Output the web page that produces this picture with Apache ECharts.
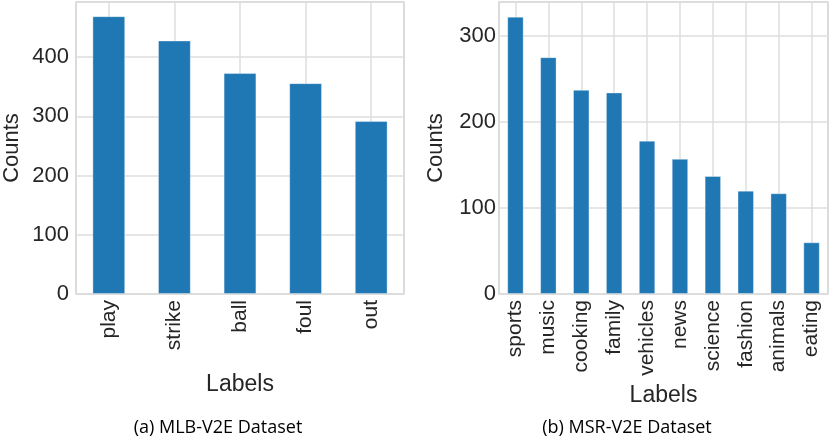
<!DOCTYPE html>
<html>
<head>
<meta charset="utf-8">
<script src="https://cdn.jsdelivr.net/npm/echarts@6/dist/echarts.min.js"></script>
<style>html,body{margin:0;padding:0;background:#fff;}#c{width:830px;height:442px;}</style>
</head>
<body>
<div id="c"></div>
<script>
var mlbCategories = ['play', 'strike', 'ball', 'foul', 'out'];
var mlbCounts = [469, 428, 373, 356, 292];
var msrCategories = ['sports', 'music', 'cooking', 'family', 'vehicles', 'news', 'science', 'fashion', 'animals', 'eating'];
var msrCounts = [322, 275, 237, 234, 178, 157, 137, 120, 117, 60];
var mlbYTicks = [0, 100, 200, 300, 400];
var msrYTicks = [0, 100, 200, 300];
var captions = ['(a) MLB-V2E Dataset', '(b) MSR-V2E Dataset'];

var chart = echarts.init(document.getElementById('c'), null, {renderer: 'canvas'});
var txt = '#262626';
var gridColor = '#dedede';
var font = 'Liberation Sans';
function tickFmt(ticks) {
  return function (v) { return ticks.indexOf(v) >= 0 ? String(v) : ''; };
}
function xAxis(idx, cats, gap) {
  return {
    type: 'category', gridIndex: idx, data: cats,
    name: 'Labels', nameLocation: 'middle', nameGap: gap,
    nameTextStyle: {color: txt, fontSize: 23, fontFamily: font},
    axisLine: {show: false}, axisTick: {show: false},
    axisLabel: {rotate: 90, color: txt, fontSize: 21, fontFamily: font, margin: 6, interval: 0},
    splitLine: {show: true, alignWithLabel: true, lineStyle: {color: gridColor, width: 1.5}}
  };
}
function yAxis(idx, max, ticks, gap, margin) {
  return {
    type: 'value', gridIndex: idx, min: 0, max: max, interval: 100,
    name: 'Counts', nameLocation: 'middle', nameGap: gap,
    nameTextStyle: {color: txt, fontSize: 22, fontFamily: font},
    axisLine: {show: false}, axisTick: {show: false},
    axisLabel: {color: txt, fontSize: 22, fontFamily: font, margin: margin, formatter: tickFmt(ticks), showMaxLabel: false},
    splitLine: {show: true, lineStyle: {color: gridColor, width: 1.5}}
  };
}
var barStyle = {color: '#1f77b4', borderColor: 'rgba(255,255,255,0.35)', borderWidth: 1};
chart.setOption({
  animation: false,
  backgroundColor: '#ffffff',
  title: [
    {text: captions[0], left: 213, top: 414, textAlign: 'center',
     textStyle: {fontFamily: 'Open Sans', fontWeight: 'normal', fontSize: 18, color: '#000'}},
    {text: captions[1], left: 622, top: 414, textAlign: 'center',
     textStyle: {fontFamily: 'Open Sans', fontWeight: 'normal', fontSize: 18, color: '#000'}}
  ],
  grid: [
    {left: 74, right: 426, top: 2, bottom: 148, show: true, borderColor: '#d0d0d0', borderWidth: 1.5},
    {left: 499, right: 2, top: 2, bottom: 148, show: true, borderColor: '#d0d0d0', borderWidth: 1.5}
  ],
  xAxis: [xAxis(0, mlbCategories, 79), xAxis(1, msrCategories, 81)],
  yAxis: [yAxis(0, 493, mlbYTicks, 53, 7), yAxis(1, 339, msrYTicks, 52, 3)],
  series: [
    {type: 'bar', xAxisIndex: 0, yAxisIndex: 0, data: mlbCounts, barWidth: '50%', itemStyle: barStyle},
    {type: 'bar', xAxisIndex: 1, yAxisIndex: 1, data: msrCounts, barWidth: '50%', itemStyle: barStyle}
  ]
});
</script>
</body>
</html>
